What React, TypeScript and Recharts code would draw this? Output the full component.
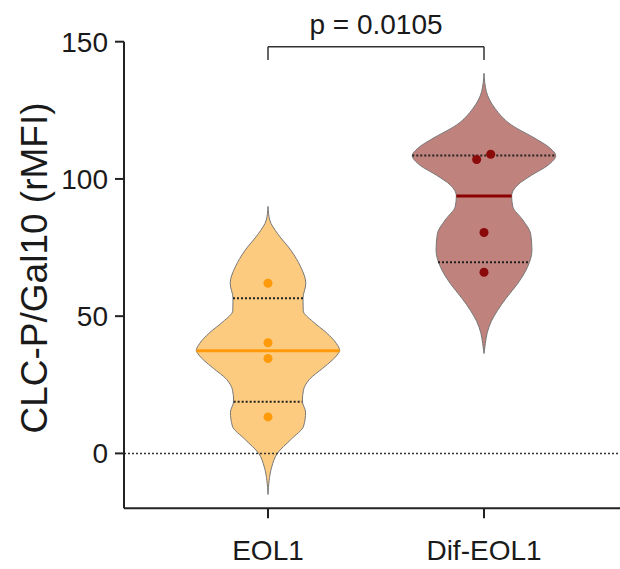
import { ComposedChart, Area, Line, Scatter, XAxis, YAxis, ReferenceLine } from "recharts";

const categories = ["EOL1", "Dif-EOL1"];

// violin outlines on one shared grid of value levels; half widths in category units
// (null where a violin has no density)
const levels = [-15, -10, -5, 0, 5, 10, 15, 19, 23, 27, 31, 34, 36.4, 37.5, 40, 44, 48, 52, 56.5, 62, 68, 74, 80, 85, 90, 93.8, 97.8, 101.4, 105.1, 108.5, 111.2, 114.8, 119.6, 125.7, 131.8, 138.5];
const eolHalfWidths = [0, 0.005, 0.017, 0.043, 0.105, 0.165, 0.174, 0.159, 0.164, 0.192, 0.253, 0.298, 0.325, 0.332, 0.317, 0.27, 0.208, 0.163, 0.162, 0.175, 0.151, 0.106, 0.045, 0.008, 0, null, null, null, null, null, null, null, null, null, null, null];
const difHalfWidths = [null, null, null, null, null, null, null, null, null, null, null, null, 0, 0.002, 0.006, 0.015, 0.033, 0.062, 0.102, 0.157, 0.202, 0.222, 0.216, 0.18, 0.133, 0.128, 0.156, 0.221, 0.298, 0.332, 0.306, 0.236, 0.128, 0.051, 0.011, 0];

// individual samples
const eolValues = [62, 40.3, 34.6, 13.3];
const eolJitter = [0, 0, 0, 0];
const difValues = [109, 107.1, 80.5, 66];
const difJitter = [0.031, -0.034, 0, 0];

// summary lines per category
const medians = [37.4, 93.8];
const medianHalfWidths = [0.332, 0.128];
const lowerQuartiles = [18.8, 69.6];
const lowerQuartileHalfWidths = [0.159, 0.213];
const upperQuartiles = [56.5, 108.5];
const upperQuartileHalfWidths = [0.162, 0.332];

const yTicks = [0, 50, 100, 150];
const yMinorTicks = [-10, 10, 20, 30, 40, 60, 70, 80, 90, 110, 120, 130, 140];

const pLabel = "p = 0.0105";
const bracketTop = 148.2;
const bracketFoot = 143.3;

const FONT = "'Liberation Sans', Arial, Helvetica, sans-serif";
const INK = "#1a1a1a";
const fills = ["#FCCB80", "#BF827D"];
const outline = "#777";
const medianColors = ["#FF9A0A", "#8B0000"];
const dotColors = ["#FF9A0A", "#8B0A0A"];

const span = (c: number, hw: number | null) => (hw == null ? null : [c - hw, c + hw]);
const edge = (c: number, hw: number | null) => (hw == null ? null : c + hw);

const violinRows = levels.map((v, i) => ({
  v,
  eol: span(1, eolHalfWidths[i]),
  dif: span(2, difHalfWidths[i]),
  eolL: edge(1, eolHalfWidths[i] == null ? null : -eolHalfWidths[i]!),
  eolR: edge(1, eolHalfWidths[i]),
  difL: edge(2, difHalfWidths[i] == null ? null : -difHalfWidths[i]!),
  difR: edge(2, difHalfWidths[i]),
}));

const eolDots = eolValues.map((v, i) => ({ x: 1 + eolJitter[i], v }));
const difDots = difValues.map((v, i) => ({ x: 2 + difJitter[i], v }));

const YLabel = (props: any) => {
  const vb = props.viewBox || { x: 0, y: 0, width: 0, height: 0 };
  const x = vb.x + 47;
  const y = vb.y + vb.height / 2 - 7;
  return (
    <text x={x} y={y} transform={`rotate(-90, ${x}, ${y})`} textAnchor="middle" fontSize={37} fontFamily={FONT} fill={INK}>
      CLC-P/Gal10 (rMFI)
    </text>
  );
};

const App = () => {
  const seg = (c: number, y: number, hw: number) => [
    { x: c - hw, y },
    { x: c + hw, y },
  ];

  return (
    <div style={{ position: "absolute", left: 0, top: 0, fontFamily: FONT }}>
      <ComposedChart
        width={620}
        height={569}
        data={violinRows}
        layout="vertical"
        margin={{ top: 41.7, right: 0, bottom: 0.7, left: 0 }}
      >
        <YAxis
          yAxisId="minor"
          type="number"
          dataKey="v"
          domain={[-20, 150]}
          allowDataOverflow
          reversed
          ticks={yMinorTicks}
          width={0}
          axisLine={false}
          tickSize={6}
          tickLine={{ stroke: "#222", strokeWidth: 2 }}
          tickFormatter={() => ""}
        />
        <YAxis
          type="number"
          dataKey="v"
          domain={[-20, 150]}
          allowDataOverflow
          reversed
          ticks={yTicks}
          width={124}
          tickSize={9}
          tickMargin={7}
          axisLine={{ stroke: "#222", strokeWidth: 2 }}
          tickLine={{ stroke: "#222", strokeWidth: 2 }}
          tick={{ fill: INK, fontSize: 28, fontFamily: FONT }}
          label={{ content: YLabel }}
        />
        <XAxis
          type="number"
          dataKey="x"
          domain={[1 - 144 / 216, 2 + 136 / 216]}
          allowDataOverflow
          ticks={[1, 2]}
          tickFormatter={(t: number) => categories[t - 1]}
          height={60}
          tickSize={10}
          tickMargin={22}
          axisLine={{ stroke: "#222", strokeWidth: 2 }}
          tickLine={{ stroke: "#222", strokeWidth: 2 }}
          tick={{ fill: INK, fontSize: 28, fontFamily: FONT }}
        />

        <Area dataKey="eol" type="monotone" fill={fills[0]} fillOpacity={1} stroke="none" isAnimationActive={false} />
        <Area dataKey="dif" type="monotone" fill={fills[1]} fillOpacity={1} stroke="none" isAnimationActive={false} />
        {["eolL", "eolR", "difL", "difR"].map((k) => (
          <Line key={k} dataKey={k} type="monotone" stroke={outline} strokeWidth={1} dot={false} activeDot={false} isAnimationActive={false} />
        ))}

        <ReferenceLine y={0} stroke="#333" strokeWidth={1.5} strokeDasharray="2 2" />

        {medians.map((m, i) => (
          <ReferenceLine key={`med${i}`} segment={seg(i + 1, m, medianHalfWidths[i])} stroke={medianColors[i]} strokeWidth={3} />
        ))}
        {lowerQuartiles.map((q, i) => (
          <ReferenceLine key={`q1${i}`} segment={seg(i + 1, q, lowerQuartileHalfWidths[i])} stroke="#222" strokeWidth={2} strokeDasharray="2 2" />
        ))}
        {upperQuartiles.map((q, i) => (
          <ReferenceLine key={`q3${i}`} segment={seg(i + 1, q, upperQuartileHalfWidths[i])} stroke="#222" strokeWidth={2} strokeDasharray="2 2" />
        ))}

        {/* significance bracket */}
        <ReferenceLine
          segment={[{ x: 1, y: bracketTop }, { x: 2, y: bracketTop }]}
          stroke="#333"
          strokeWidth={1.5}
          label={{ value: pLabel, position: "top", offset: 13, fill: INK, fontSize: 28, fontFamily: FONT }}
        />
        <ReferenceLine segment={[{ x: 1, y: bracketTop }, { x: 1, y: bracketFoot }]} stroke="#333" strokeWidth={1.5} />
        <ReferenceLine segment={[{ x: 2, y: bracketTop }, { x: 2, y: bracketFoot }]} stroke="#333" strokeWidth={1.5} />

        <Scatter data={eolDots} dataKey="v" fill={dotColors[0]} shape="circle" isAnimationActive={false} />
        <Scatter data={difDots} dataKey="v" fill={dotColors[1]} shape="circle" isAnimationActive={false} />
      </ComposedChart>
    </div>
  );
};

export default App;
